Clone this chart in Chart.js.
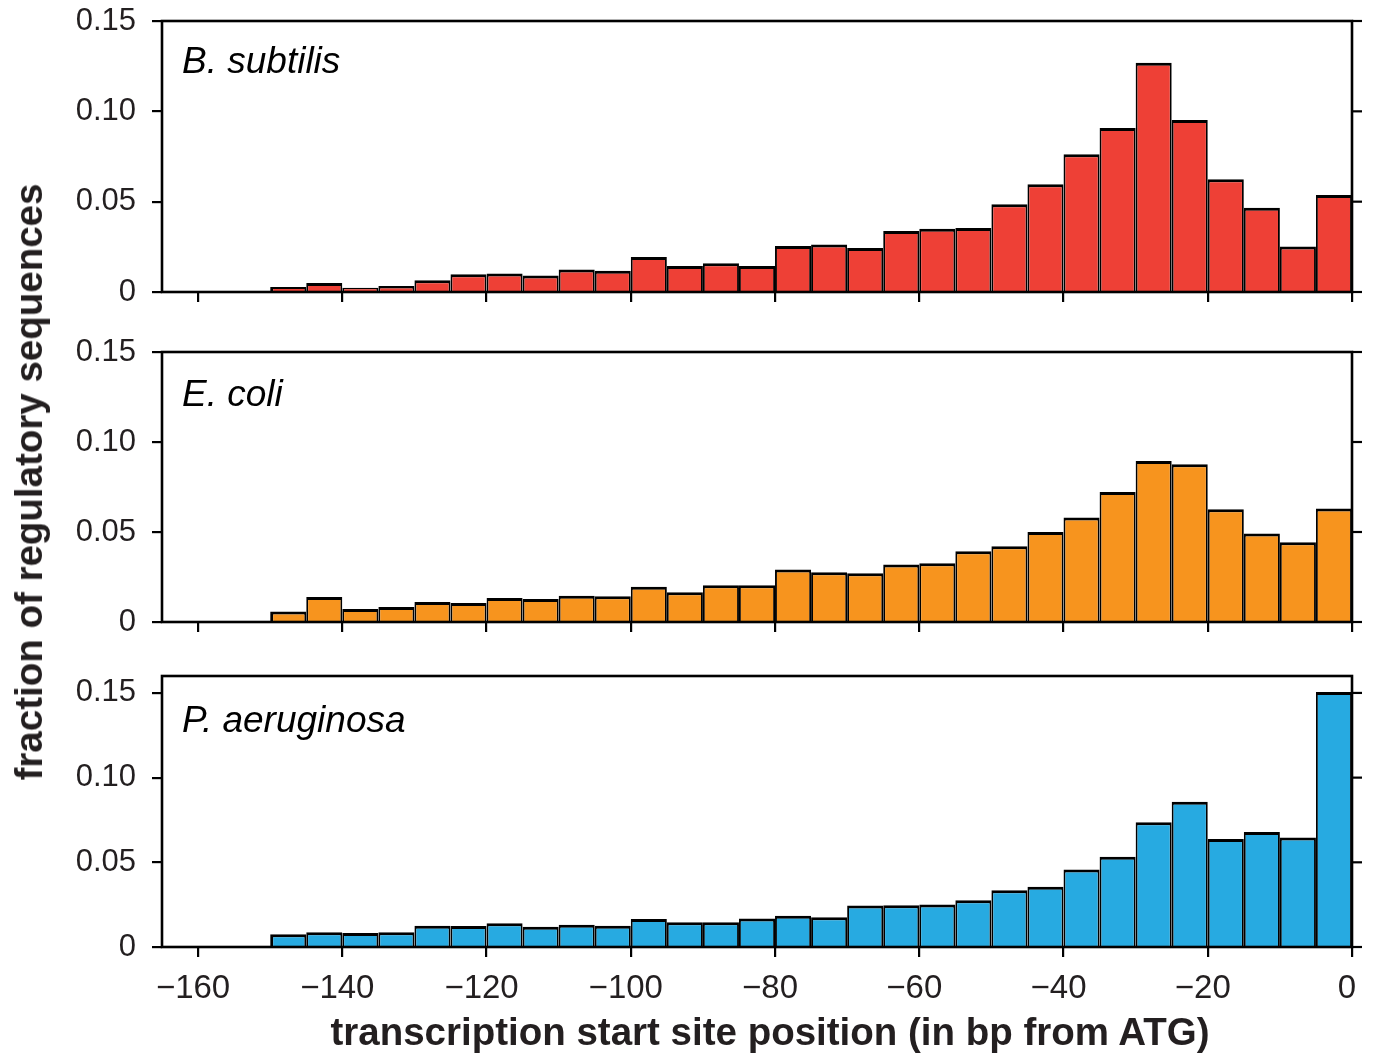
<!DOCTYPE html>
<html>
<head>
<meta charset="utf-8">
<script src="https://cdn.jsdelivr.net/npm/chart.js@4.4.1/dist/chart.umd.min.js"></script>
<style>
  html, body { margin: 0; padding: 0; background: #fff; }
  #wrap { position: relative; width: 1374px; height: 1057px; background: #fff; overflow: hidden; }
  canvas { position: absolute; left: 0; }
  .axtitle { position: absolute; font-family: 'Liberation Sans', Arial, sans-serif; font-weight: bold; font-size: 38.5px; line-height: 38px; color: #231f20; white-space: nowrap; z-index: 5; }
</style>
</head>
<body>
<div id="wrap">
  <canvas id="c1" width="1374" height="306" style="top:0px"></canvas>
  <canvas id="c2" width="1374" height="316" style="top:320px"></canvas>
  <canvas id="c3" width="1374" height="376" style="top:646px"></canvas>
  <div class="axtitle" id="xtitle" style="left:770px; top:1013px; transform: translateX(-50%);">transcription start site position (in bp from ATG)</div>
  <div class="axtitle" id="ytitle" style="left:29px; top:482px; transform: translate(-50%,-50%) rotate(-90deg);">fraction of regulatory sequences</div>
</div>
<script>
// ---- data ----
const binCenters = [-147.5,-142.5,-137.5,-132.5,-127.5,-122.5,-117.5,-112.5,-107.5,-102.5,
                    -97.5,-92.5,-87.5,-82.5,-77.5,-72.5,-67.5,-62.5,-57.5,-52.5,
                    -47.5,-42.5,-37.5,-32.5,-27.5,-22.5,-17.5,-12.5,-7.5,-2.5];
const bSubtilis = [0.0028,0.0050,0.0024,0.0033,0.0065,0.0098,0.0102,0.0091,0.0124,0.0117,
                   0.0194,0.0144,0.0159,0.0144,0.0254,0.0263,0.0244,0.0337,0.0350,0.0354,
                   0.0486,0.0597,0.0763,0.0908,0.1269,0.0952,0.0624,0.0467,0.0252,0.0537];
const eColi = [0.0059,0.0139,0.0072,0.0083,0.0111,0.0106,0.0133,0.0128,0.0146,0.0143,
               0.0196,0.0165,0.0204,0.0204,0.0291,0.0276,0.0271,0.0319,0.0326,0.0393,
               0.0421,0.0500,0.0580,0.0722,0.0894,0.0876,0.0626,0.0491,0.0443,0.0630];
const pAeruginosa = [0.0075,0.0087,0.0083,0.0087,0.0126,0.0124,0.0140,0.0120,0.0132,0.0126,
                     0.0166,0.0146,0.0146,0.0168,0.0184,0.0176,0.0245,0.0247,0.0251,0.0276,
                     0.0335,0.0355,0.0458,0.0533,0.0736,0.0858,0.0637,0.0679,0.0647,0.1505];
const speciesNames = ['B. subtilis', 'E. coli', 'P. aeruginosa'];
const xTickValues = [-160,-140,-120,-100,-80,-60,-40,-20,0];
const yTickValues = [0, 0.05, 0.10, 0.15];
const xRange = [-165, 0];
const yMaxes = [0.15, 0.15, 0.16];

// ---- styling ----
const colors = ['#EE4036', '#F7941E', '#27AAE1'];
const textColor = '#231f20';

const framePlugin = {
  id: 'frame',
  afterDatasetsDraw(chart, args, opts) {
    const { ctx, chartArea: a } = chart;
    const y = chart.scales.y;
    ctx.save();
    ctx.strokeStyle = '#000';
    ctx.lineWidth = 2.6;
    ctx.strokeRect(a.left, a.top, a.right - a.left, a.bottom - a.top);
    ctx.lineWidth = 2.2;
    y.ticks.forEach(t => {
      const py = y.getPixelForValue(t.value);
      ctx.beginPath();
      ctx.moveTo(a.right, py);
      ctx.lineTo(a.right + 10, py);
      ctx.stroke();
    });
    ctx.fillStyle = '#000';
    ctx.font = 'italic 37px "Liberation Sans", Arial, sans-serif';
    ctx.textBaseline = 'alphabetic';
    ctx.textAlign = 'left';
    ctx.fillText(opts.label, a.left + 20, a.top + opts.labelDy);
    ctx.restore();
  }
};

function zeroPad(s) { s.paddingTop = 0; s.paddingBottom = 0; s.paddingLeft = 0; s.paddingRight = 0; }

function makePanel(id, values, color, idx, showXLabels, xHeight, padTop, labelDy) {
  const data = binCenters.map((x, i) => ({ x: x, y: values[i] }));
  return new Chart(document.getElementById(id), {
    type: 'bar',
    data: {
      datasets: [{
        data: data,
        backgroundColor: color,
        borderColor: '#000',
        borderWidth: ctx => ({ left: ctx.dataIndex === 0 ? 3 : 1.9, right: 1.9, top: 3, bottom: 0 }),
        borderSkipped: false,
        inflateAmount: 0,
        barPercentage: 1.0,
        categoryPercentage: 1.0
      }]
    },
    options: {
      responsive: false,
      animation: false,
      events: [],
      layout: { padding: { top: padTop, left: 0, right: 22, bottom: 0 } },
      plugins: {
        legend: { display: false },
        tooltip: { enabled: false },
        frame: { label: speciesNames[idx], labelDy: labelDy }
      },
      scales: {
        x: {
          type: 'linear',
          min: xRange[0], max: xRange[1],
          offset: false,
          afterBuildTicks: s => { s.ticks = xTickValues.map(v => ({ value: v })); },
          afterFit: s => { s.height = xHeight; zeroPad(s); },
          border: { display: false },
          grid: { display: true, offset: false, drawOnChartArea: false, drawTicks: true, tickLength: 10, color: '#000', lineWidth: 2.2 },
          ticks: {
            display: showXLabels,
            padding: 12,
            labelOffset: -5,
            maxRotation: 0,
            autoSkip: false,
            color: textColor,
            font: { family: 'Liberation Sans', size: 33 },
            callback: v => (v < 0 ? '\u2212' + Math.abs(v) : String(v))
          }
        },
        y: {
          type: 'linear',
          min: 0, max: yMaxes[idx],
          afterBuildTicks: s => { s.ticks = yTickValues.map(v => ({ value: v })); },
          afterFit: s => { s.width = 162; zeroPad(s); },
          border: { display: false },
          grid: { display: true, drawOnChartArea: false, drawTicks: true, tickLength: 10, color: '#000', lineWidth: 2.2 },
          ticks: {
            padding: 16,
            color: textColor,
            font: { family: 'Liberation Sans', size: 31 },
            callback: v => (v === 0 ? '0' : v.toFixed(2))
          }
        }
      }
    },
    plugins: [framePlugin]
  });
}

// canvas c1: top 0, plot 21..292 ; c2: top 320, plot 352..622 ; c3: top 646, plot 676..947
makePanel('c1', bSubtilis, colors[0], 0, false, 14, 21, 52);
makePanel('c2', eColi, colors[1], 1, false, 14, 32, 54);
makePanel('c3', pAeruginosa, colors[2], 2, true, 75, 30, 56);
</script>
</body>
</html>
